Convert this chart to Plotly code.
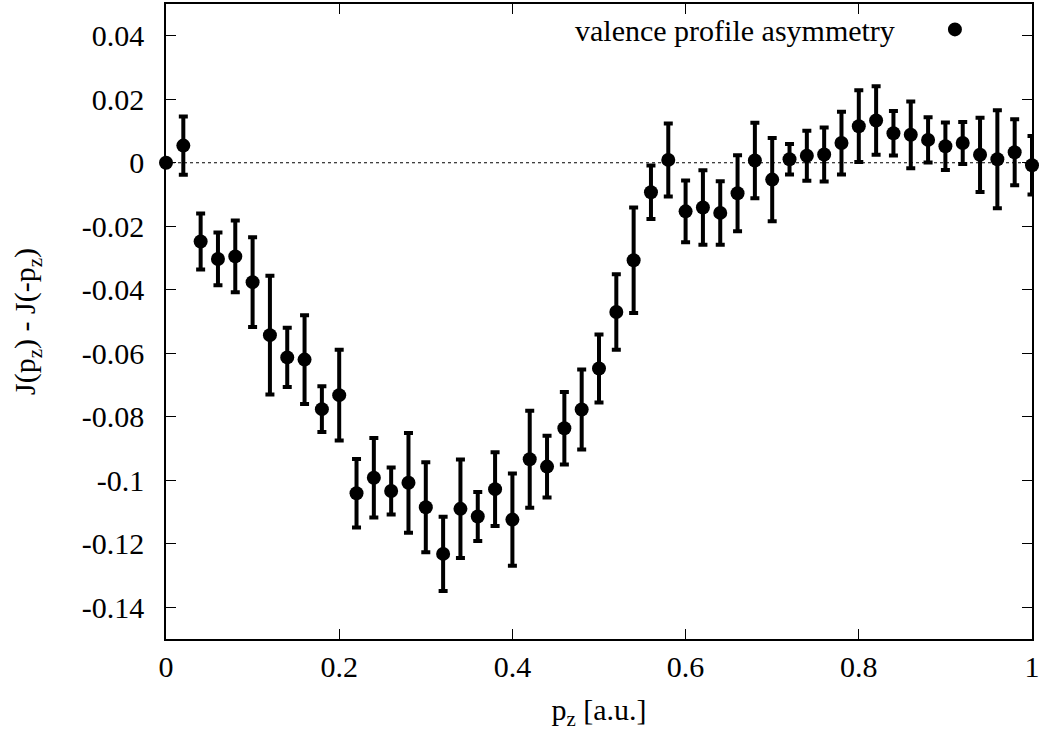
import plotly.graph_objects as go

# momentum p_z [a.u.]
pz = [0.00, 0.02, 0.04, 0.06, 0.08, 0.10, 0.12, 0.14, 0.16, 0.18,
      0.20, 0.22, 0.24, 0.26, 0.28, 0.30, 0.32, 0.34, 0.36, 0.38,
      0.40, 0.42, 0.44, 0.46, 0.48, 0.50, 0.52, 0.54, 0.56, 0.58,
      0.60, 0.62, 0.64, 0.66, 0.68, 0.70, 0.72, 0.74, 0.76, 0.78,
      0.80, 0.82, 0.84, 0.86, 0.88, 0.90, 0.92, 0.94, 0.96, 0.98,
      1.00]

# asymmetry J(p_z) - J(-p_z)
asym = [0.0000, 0.0054, -0.0248, -0.0303, -0.0295, -0.0376, -0.0543, -0.0613, -0.0620, -0.0776,
        -0.0732, -0.1041, -0.0992, -0.1034, -0.1008, -0.1085, -0.1232, -0.1090, -0.1114, -0.1028,
        -0.1124, -0.0934, -0.0957, -0.0836, -0.0777, -0.0648, -0.0470, -0.0307, -0.0093, 0.0009,
        -0.0153, -0.0141, -0.0158, -0.0096, 0.0007, -0.0053, 0.0011, 0.0022, 0.0026, 0.0062,
        0.0115, 0.0133, 0.0093, 0.0088, 0.0072, 0.0052, 0.0062, 0.0025, 0.0011, 0.0033,
        -0.0008]

# statistical uncertainty
err = [0.0000, 0.0092, 0.0088, 0.0083, 0.0113, 0.0141, 0.0187, 0.0093, 0.0140, 0.0072,
       0.0143, 0.0108, 0.0125, 0.0074, 0.0157, 0.0142, 0.0117, 0.0155, 0.0077, 0.0116,
       0.0145, 0.0153, 0.0097, 0.0114, 0.0126, 0.0107, 0.0119, 0.0166, 0.0084, 0.0115,
       0.0097, 0.0117, 0.0100, 0.0120, 0.0119, 0.0131, 0.0048, 0.0079, 0.0085, 0.0099,
       0.0113, 0.0108, 0.0070, 0.0105, 0.0071, 0.0075, 0.0066, 0.0117, 0.0154, 0.0104,
       0.0092]

x_ticks = [0, 0.2, 0.4, 0.6, 0.8, 1.0]
x_ticktext = ["0", "0.2", "0.4", "0.6", "0.8", "1"]
y_ticks = [0.04, 0.02, 0.0, -0.02, -0.04, -0.06, -0.08, -0.10, -0.12, -0.14]
y_ticktext = ["0.04", "0.02", "0", "-0.02", "-0.04", "-0.06", "-0.08", "-0.1", "-0.12", "-0.14"]

legend_label = "valence profile asymmetry"

FONT = "Liberation Serif"
FS = 30

fig = go.Figure()

fig.add_trace(go.Scatter(
    x=pz, y=asym,
    mode="markers",
    marker=dict(color="black", size=14, symbol="circle"),
    error_y=dict(type="data", array=err, visible=True,
                 color="black", thickness=4, width=4.5),
    cliponaxis=False,
    showlegend=False,
    name=legend_label,
))

axis_common = dict(
    showline=True, linecolor="black", linewidth=1.5, mirror="ticks",
    ticks="inside", ticklen=10, tickwidth=1.2, tickcolor="black",
    showgrid=False, zeroline=False, ticklabeloverflow="allow",
    tickfont=dict(family=FONT, size=FS, color="black"),
)

fig.update_xaxes(
    range=[0, 1], tickvals=x_ticks, ticktext=x_ticktext,
    ticklabelstandoff=0,
    title=dict(text="p<sub>z</sub> [a.u.]", font=dict(family=FONT, size=FS, color="black"),
               standoff=17),
    **axis_common,
)
fig.update_yaxes(
    range=[-0.15, 0.05], tickvals=y_ticks, ticktext=y_ticktext,
    ticklabelstandoff=14,
    title=dict(text="J(p<sub>z</sub>) - J(-p<sub>z</sub>)", font=dict(family=FONT, size=FS, color="black"),
               standoff=37),
    **axis_common,
)

# dotted zero reference line
fig.add_shape(type="line", xref="paper", yref="y", x0=0, x1=1, y0=0, y1=0,
              line=dict(color="black", width=1, dash="dot"), layer="below")

# key: label followed by its marker sample
fig.add_annotation(xref="paper", yref="paper", x=0.844, y=0.958,
                   xanchor="right", yanchor="middle", showarrow=False,
                   text=legend_label, font=dict(family=FONT, size=FS, color="black"))
fig.add_shape(type="circle", xref="paper", yref="paper",
              xsizemode="pixel", ysizemode="pixel",
              xanchor=0.911, yanchor=0.960, x0=-7, x1=7, y0=-7, y1=7,
              fillcolor="black", line=dict(color="black", width=0))

fig.update_layout(
    width=1039, height=736,
    margin=dict(l=166, r=7, t=4, b=97, autoexpand=False),
    paper_bgcolor="white", plot_bgcolor="white",
    font=dict(family=FONT, size=FS, color="black"),
)

fig.write_html("out.html")
